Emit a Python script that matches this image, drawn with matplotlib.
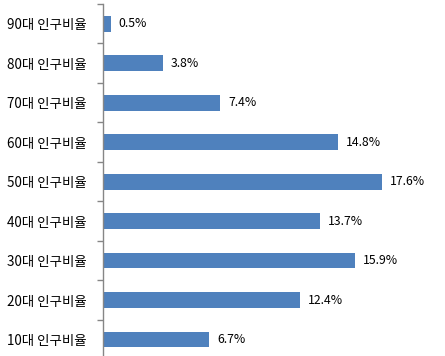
import matplotlib
matplotlib.use("Agg")
import matplotlib.pyplot as plt
import numpy as np

plt.rcParams['font.family'] = ['Noto Sans CJK KR', 'DejaVu Sans']

categories = ["10대 인구비율", "20대 인구비율", "30대 인구비율", "40대 인구비율",
              "50대 인구비율", "60대 인구비율", "70대 인구비율", "80대 인구비율", "90대 인구비율"]
values = [6.7, 12.4, 15.9, 13.7, 17.6, 14.8, 7.4, 3.8, 0.5]
value_labels = ["6.7%", "12.4%", "15.9%", "13.7%", "17.6%", "14.8%", "7.4%", "3.8%", "0.5%"]

fig = plt.figure(figsize=(4.45, 3.56), dpi=100)
ax = fig.add_axes([103/445, -0.0091, 1 - 103/445, 0.98876 + 0.0091])

y = np.arange(len(categories))
ax.barh(y, values, height=0.4, color='#4F81BD')
for yi, v, lab in zip(y, values, value_labels):
    ax.text(v + 0.5, yi, lab, va='center', ha='left', fontsize=8.8, color='black')

ax.set_ylim(-0.5, len(categories) - 0.5)
ax.set_xlim(0, (445 - 103) / 15.85)
ax.set_yticks(y)
ax.set_yticklabels(categories, fontsize=9.7)
ax.set_yticks(np.arange(-0.5, len(categories), 1), minor=True)
ax.tick_params(axis='y', which='major', length=0, pad=11.5)
ax.tick_params(axis='y', which='minor', length=4, color='#868686', width=1)
ax.set_xticks([])
for s in ['top', 'right', 'bottom']:
    ax.spines[s].set_visible(False)
ax.spines['left'].set_color('#868686')
ax.spines['left'].set_linewidth(1)

fig.savefig('out.png', dpi=100)
